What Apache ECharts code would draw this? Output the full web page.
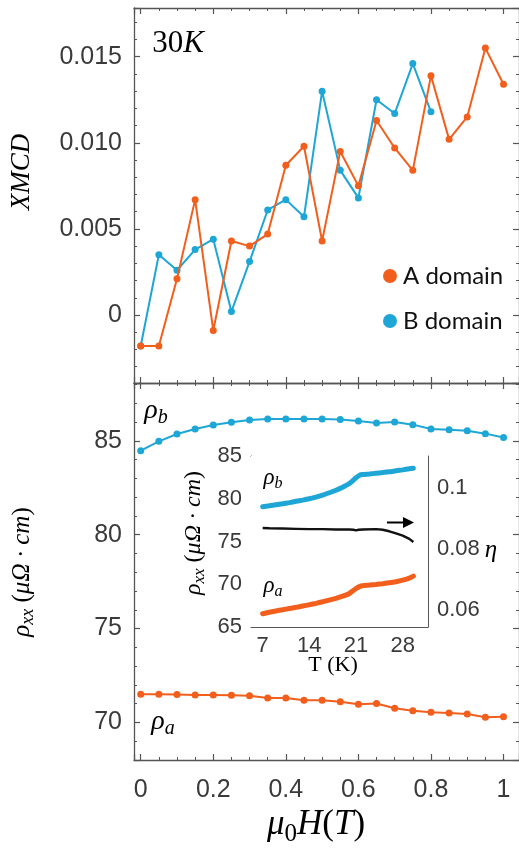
<!DOCTYPE html>
<html><head><meta charset="utf-8">
<script src="https://cdn.jsdelivr.net/npm/echarts@6/dist/echarts.min.js"></script>
<style>html,body{margin:0;padding:0;background:#fff}#c{width:519px;height:853px}</style>
</head><body><div id="c"></div>
<script>
// ---- data ----
const fieldT = [0,0.05,0.1,0.15,0.2,0.25,0.3,0.35,0.4,0.45,0.5,0.55,0.6,0.65,0.7,0.75,0.8,0.85,0.9,0.95,1.0];
const xmcdA = [-0.0018,-0.0018,0.0021,0.0067,-0.0009,0.0043,0.0040,0.0047,0.0087,0.0098,0.0043,0.0095,0.0075,0.0113,0.0097,0.0084,0.0139,0.0102,0.0115,0.0155,0.0134];
const xmcdB = [-0.0018,0.0035,0.0026,0.0038,0.0044,0.0002,0.0031,0.0061,0.0067,0.0057,0.0130,0.0084,0.0068,0.0125,0.0117,0.0146,0.0118];
const rhoB = [84.48,84.98,85.37,85.64,85.85,86.0,86.12,86.17,86.17,86.17,86.17,86.14,86.07,85.96,86.01,85.87,85.64,85.6,85.55,85.39,85.18];
const rhoA = [71.49,71.49,71.48,71.46,71.46,71.44,71.42,71.30,71.30,71.17,71.17,71.10,70.96,71.0,70.75,70.62,70.53,70.50,70.44,70.27,70.30];
const insetT = [7,8,9,10,11,12,13,14,15,16,17,18,19,20,21,21.6,22,23,24,25,26,27,28,29,29.6];
const insetRhoB = [79.07,79.18,79.3,79.42,79.55,79.7,79.84,80.0,80.2,80.42,80.7,81.0,81.35,81.78,82.45,82.78,82.83,82.9,82.98,83.06,83.15,83.27,83.38,83.5,83.57];
const insetRhoA = [66.55,66.73,66.88,67.02,67.16,67.3,67.45,67.6,67.77,67.95,68.15,68.35,68.6,68.92,69.5,69.75,69.83,69.9,69.98,70.07,70.17,70.3,70.48,70.72,70.95];
const etaT = [7,8,10,12,14,16,18,20,20.6,21,21.4,22,24,25,26,27,28,29,29.6];
const eta = [0.0870,0.0869,0.0868,0.0867,0.0866,0.0866,0.0865,0.0865,0.0864,0.0862,0.0864,0.0865,0.0866,0.0864,0.0859,0.0852,0.0845,0.0834,0.0824];
const insetXTicks = [7,14,21,28];
const insetEtaTicks = [0.06,0.08,0.1];

const ORANGE = '#F25E1C', BLUE = '#1DA6D6', AX = '#555';
const zip = (xs, ys) => ys.map((v, i) => [xs[i], v]);

const chart = echarts.init(document.getElementById('c'), null, {renderer: 'canvas'});
const lab = {fontFamily: 'Liberation Sans', fontSize: 25, color: '#3a3a3a'};
const line = {show: true, onZero: false, lineStyle: {color: AX, width: 1.3}};
const tick = (len) => ({show: true, inside: true, length: len, lineStyle: {color: AX, width: 1.2}});
const minor = (n) => ({show: true, splitNumber: n, length: 3, lineStyle: {color: AX, width: 1}});
const insetLine = {show: true, onZero: false, lineStyle: {color: AX, width: 1}};

function mainX(grid, pos, showLabel) {
  return {type: 'value', gridIndex: grid, position: pos, min: -0.0185, max: 1.0427, splitNumber: 5,
    axisLine: line, axisTick: tick(6), minorTick: minor(4), splitLine: {show: false},
    axisLabel: Object.assign({show: showLabel, margin: 18, showMinLabel: false, showMaxLabel: false,
      formatter: v => (Math.abs(v*5 - Math.round(v*5)) < 1e-9 && v >= 0 && v <= 1.0001) ? String(Math.round(v*10)/10) : ''}, lab)};
}
function mainY(grid, pos, min, max, showLabel, fmt) {
  return {type: 'value', gridIndex: grid, position: pos, min: min, max: max, splitNumber: 4,
    axisLine: line, axisTick: tick(6), minorTick: minor(5), splitLine: {show: false},
    axisLabel: Object.assign({show: showLabel, margin: 12, showMinLabel: false, showMaxLabel: false, formatter: fmt}, lab)};
}
const insetLab = {fontFamily: 'Liberation Sans', fontSize: 22, color: '#3a3a3a'};

const serif = 'Liberation Serif';
const R = (size) => ({
  i: {fontFamily: serif, fontStyle: 'italic', fontSize: size, color: '#111'},
  n: {fontFamily: serif, fontSize: size, color: '#111'},
  s: {fontFamily: serif, fontStyle: 'italic', fontSize: Math.round(size*0.7), color: '#111', padding: [Math.round(size*0.5),0,0,0]},
  sn: {fontFamily: serif, fontSize: Math.round(size*0.7), color: '#111', padding: [Math.round(size*0.5),0,0,0]}
});
function txt(x, y, text, size, rot) {
  return {type: 'text', x: x, y: y, rotation: rot || 0, z: 100,
    style: {text: text, rich: R(size), textAlign: 'center', align: 'center', textVerticalAlign: 'middle', verticalAlign: 'middle'}};
}

chart.setOption({
  animation: false,
  backgroundColor: '#fff',
  grid: [
    {left: 134, top: 8, right: 0, height: 375},
    {left: 134, top: 383, right: 0, height: 377},
    {left: 251, top: 456, width: 177, height: 171, show: true, backgroundColor: '#fff', borderWidth: 0, z: 5}
  ],
  legend: {data: ['A domain', 'B domain'], icon: 'circle', orient: 'vertical', left: 378, top: 259,
    itemWidth: 14, itemHeight: 14, itemGap: 21, selectedMode: false,
    textStyle: {fontFamily: 'Lato', fontSize: 24, color: '#111', padding: [0,0,0,1]}},
  xAxis: [
    mainX(0, 'bottom', false), mainX(0, 'top', false),
    mainX(1, 'bottom', true), mainX(1, 'top', false),
    {type: 'value', gridIndex: 2, position: 'bottom', min: 5.25, max: 31.8,
      axisLine: insetLine, splitLine: {show: false},
      axisTick: {show: true, inside: true, length: 3, customValues: insetXTicks, lineStyle: {color: AX}},
      axisLabel: Object.assign({customValues: insetXTicks, margin: 8}, insetLab)},
    {type: 'value', gridIndex: 2, position: 'top', min: 5.25, max: 31.8,
      axisLine: insetLine, splitLine: {show: false},
      axisTick: {show: true, inside: true, length: 3, customValues: insetXTicks, lineStyle: {color: AX}},
      axisLabel: {show: false}}
  ],
  yAxis: [
    mainY(0, 'left', -0.00395, 0.01783, true, v => Math.abs(v) < 1e-12 ? '0' : v.toFixed(3)),
    mainY(0, 'right', -0.00395, 0.01783, false, null),
    mainY(1, 'left', 67.99, 88.09, true, v => String(Math.round(v))),
    mainY(1, 'right', 67.99, 88.09, false, null),
    {type: 'value', gridIndex: 2, position: 'left', min: 65, max: 85, interval: 5,
      axisLine: insetLine, splitLine: {show: false},
      axisTick: {show: false},
      axisLabel: Object.assign({margin: 9, showMaxLabel: true, showMinLabel: true}, insetLab)},
    {type: 'value', gridIndex: 2, position: 'right', min: 0.0545, max: 0.1106,
      axisLine: insetLine, splitLine: {show: false},
      axisTick: {show: false, customValues: insetEtaTicks},
      axisLabel: Object.assign({margin: 9, customValues: insetEtaTicks,
        formatter: v => Math.abs(v - 0.1) < 1e-9 ? '0.1' : v.toFixed(2)}, insetLab)}
  ],
  series: [
    {name: 'A domain', type: 'line', xAxisIndex: 0, yAxisIndex: 0, data: zip(fieldT, xmcdA),
      symbol: 'circle', symbolSize: 7, lineStyle: {color: ORANGE, width: 2}, itemStyle: {color: ORANGE}, z: 3},
    {name: 'B domain', type: 'line', xAxisIndex: 0, yAxisIndex: 0, data: zip(fieldT, xmcdB),
      symbol: 'circle', symbolSize: 7, lineStyle: {color: BLUE, width: 2}, itemStyle: {color: BLUE}, z: 2},
    {name: 'rho_b', type: 'line', xAxisIndex: 2, yAxisIndex: 2, data: zip(fieldT, rhoB),
      symbol: 'circle', symbolSize: 7, lineStyle: {color: BLUE, width: 2}, itemStyle: {color: BLUE}},
    {name: 'rho_a', type: 'line', xAxisIndex: 2, yAxisIndex: 2, data: zip(fieldT, rhoA),
      symbol: 'circle', symbolSize: 7, lineStyle: {color: ORANGE, width: 2}, itemStyle: {color: ORANGE}},
    {name: 'inset rho_b', type: 'line', xAxisIndex: 4, yAxisIndex: 4, data: zip(insetT, insetRhoB),
      showSymbol: false, smooth: 0.2, lineStyle: {color: BLUE, width: 5, cap: 'round'}, z: 6},
    {name: 'inset rho_a', type: 'line', xAxisIndex: 4, yAxisIndex: 4, data: zip(insetT, insetRhoA),
      showSymbol: false, smooth: 0.2, lineStyle: {color: ORANGE, width: 5, cap: 'round'}, z: 6},
    {name: 'eta', type: 'line', xAxisIndex: 4, yAxisIndex: 5, data: zip(etaT, eta),
      showSymbol: false, lineStyle: {color: '#111', width: 2.4}, z: 6}
  ],
  graphic: [
    txt(178, 44, '{n|30}{i|K}', 31),
    txt(22, 172, '{i|XMCD}', 27, Math.PI/2),
    txt(22, 572, '{i|ρ}{s|xx}{n| (}{i|μΩ · cm}{n|)}', 25, Math.PI/2),
    txt(316, 825, '{i|μ}{sn|0}{i|H}{n|(}{i|T}{n|)}', 35),
    txt(156, 411, '{i|ρ}{s|b}', 28),
    txt(163, 722, '{i|ρ}{s|a}', 28),
    txt(273, 478, '{i|ρ}{s|b}', 23),
    txt(273, 586, '{i|ρ}{s|a}', 23),
    txt(491, 550, '{i|η}', 25),
    txt(194, 533, '{i|ρ}{s|xx}{n| (}{i|μΩ · cm}{n|)}', 24, Math.PI/2),
    txt(333, 665, '{n|T (K)}', 22),
    {type: 'line', z: 100, shape: {x1: 387, y1: 522.5, x2: 405, y2: 522.5}, style: {stroke: '#000', lineWidth: 2}},
    {type: 'polygon', z: 100, shape: {points: [[403, 517], [414, 522.5], [403, 528]]}, style: {fill: '#000'}}
  ]
});
</script></body></html>
